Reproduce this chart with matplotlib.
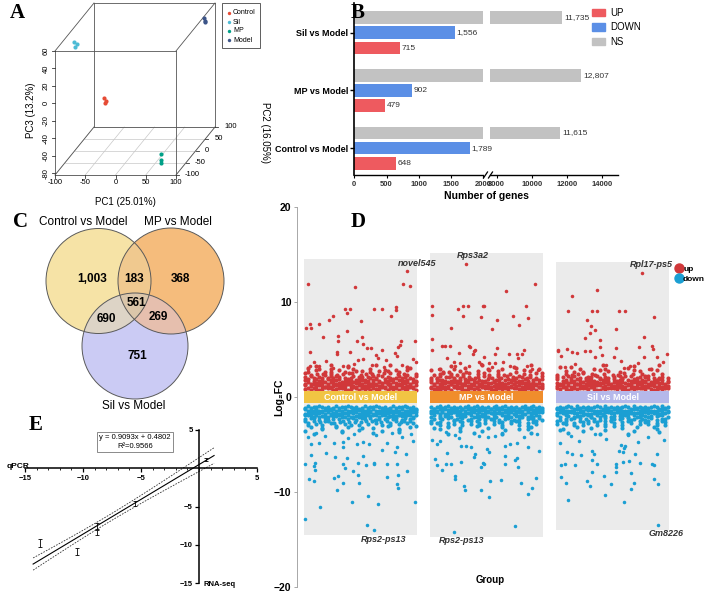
import numpy as np
import matplotlib
matplotlib.use("Agg")
import matplotlib.pyplot as plt
from matplotlib.patches import Circle, Rectangle, Polygon, Patch
from matplotlib.lines import Line2D

plt.rcParams["font.family"] = ["Liberation Sans", "DejaVu Sans"]

# ---------------- data ----------------
# A: PCA scores (PC1, PC2, PC3) per group
pca_groups = ["Control", "Sil", "MP", "Model"]
pca_colors = ["#E64B35", "#4DBBD5", "#00A087", "#3C5488"]
pc1 = {"Control": [-52, -49, -50], "Sil": [-88, -84, -85], "MP": [62, 61, 63], "Model": [85, 88, 87]}
pc2 = {"Control": [0, 2, -1], "Sil": [-40, -38, -42], "MP": [-60, -58, -61], "Model": [90, 88, 91]}
pc3 = {"Control": [-21, -25, -27], "Sil": [54, 51, 49], "MP": [-69, -76, -79], "Model": [46, 43, 41]}
pc1_ticks = [-100, -50, 0, 50, 100]
pc2_ticks = [-100, -50, 0, 50, 100]
pc3_ticks = [-80, -60, -40, -20, 0, 20, 40, 60]

# B: DEG counts
comparisons = ["Control vs Model", "MP vs Model", "Sil vs Model"]
deg_up = [648, 479, 715]
deg_down = [1789, 902, 1556]
deg_ns = [11615, 12807, 11735]

# C: Venn counts (C only, C&M, M only, all, C&S, M&S, S only)
venn_sets = ["Control vs Model", "MP vs Model", "Sil vs Model"]
venn_counts = [1003, 183, 368, 561, 690, 269, 751]

# D: log2FC per group, sparse points (x jitter, log2FC)
ctrl_up = [(0.37, 13.3), (-0.42, 11.9), (-0.04, 11.6), (0.34, 11.9), (0.39, 11.7), (-0.12, 9.3), (-0.08, 9.3),
           (0.11, 9.3), (0.17, 9.3), (-0.11, 8.8), (0.28, 9.5), (0.28, 9.2), (-0.22, 8.5), (-0.25, 8.1), (0.00, 8.0),
           (0.24, 8.5), (-0.40, 7.7), (-0.43, 7.3), (-0.39, 7.3), (-0.33, 7.7), (-0.30, 6.3), (-0.18, 6.4),
           (-0.18, 5.9), (-0.11, 6.9), (0.01, 6.3), (-0.03, 5.9), (0.32, 5.9), (0.31, 5.5), (0.30, 5.3), (0.43, 5.9),
           (0.02, 5.6), (0.05, 5.2), (0.08, 5.2), (0.17, 4.9), (-0.40, 4.7), (-0.19, 4.7), (-0.19, 4.5), (-0.08, 4.7),
           (0.12, 4.4), (0.14, 4.1), (0.20, 3.9), (0.27, 4.6), (0.29, 4.3), (-0.02, 3.9), (0.02, 4.0), (-0.27, 3.8),
           (-0.37, 3.7), (-0.40, 3.3), (-0.42, 3.0), (0.42, 4.0), (0.44, 3.7), (-0.14, 3.3), (-0.22, 3.1),
           (-0.05, 3.5), (0.09, 3.4), (0.19, 3.2), (0.33, 3.4), (0.38, 3.1), (-0.33, 3.3)]
mp_up = [(-0.16, 14.0), (0.385, 11.9), (0.155, 11.2), (-0.43, 9.6), (-0.43, 8.6), (-0.23, 9.3), (-0.19, 9.6),
         (-0.15, 9.6), (-0.03, 9.6), (-0.02, 9.6), (-0.19, 8.5), (-0.04, 8.4), (0.08, 8.1), (0.31, 9.6), (0.21, 8.5),
         (0.33, 8.3), (-0.28, 7.3), (0.04, 7.2), (0.26, 7.6), (-0.43, 6.1), (-0.43, 4.9), (-0.35, 5.4), (-0.33, 5.4),
         (-0.29, 5.4), (-0.14, 5.4), (-0.13, 5.3), (-0.10, 4.8), (-0.09, 4.9), (-0.11, 4.5), (0.08, 5.2),
         (-0.02, 4.2), (-0.22, 4.6), (-0.31, 4.1), (0.07, 4.5), (0.18, 4.5), (0.24, 4.5), (0.25, 4.1), (0.28, 4.5),
         (0.30, 4.9), (-0.26, 3.7), (-0.21, 3.6), (-0.06, 3.7), (-0.04, 3.5), (0.02, 3.6), (0.07, 3.6), (0.13, 3.7),
         (-0.38, 2.9), (-0.25, 3.3), (-0.14, 3.3), (0.04, 3.2), (0.19, 3.3), (0.32, 3.3), (0.36, 3.0), (0.41, 2.8)]
sil_up = [(0.23, 13.05), (-0.12, 11.3), (-0.32, 10.6), (-0.35, 9.1), (-0.16, 9.1), (-0.12, 9.1), (0.05, 9.1),
          (0.10, 9.1), (0.33, 8.4), (-0.20, 8.1), (-0.17, 7.5), (-0.14, 7.1), (-0.18, 6.7), (0.03, 7.2), (-0.22, 6.2),
          (-0.10, 6.0), (0.25, 6.3), (-0.43, 5.0), (-0.43, 4.8), (-0.36, 5.1), (-0.10, 5.3), (0.03, 5.2), (0.21, 5.3),
          (0.31, 5.4), (0.32, 5.1), (-0.28, 4.6), (-0.22, 4.8), (-0.18, 4.8), (-0.14, 4.2), (-0.41, 4.3),
          (-0.32, 4.7), (-0.08, 4.4), (0.01, 4.2), (0.07, 3.8), (0.43, 4.5), (0.35, 4.2), (0.25, 4.2), (0.40, 3.7),
          (0.20, 3.6), (0.14, 3.3), (-0.30, 3.5), (-0.05, 3.4), (0.09, 3.1), (-0.38, 3.2), (0.29, 3.0)]
ctrl_down = [(-0.44, -12.8), (-0.32, -11.6), (0.05, -13.5), (0.11, -14.0), (-0.07, -11.1), (0.14, -11.3),
             (0.43, -11.0), (0.06, -10.4), (-0.19, -9.8), (0.30, -9.6), (0.29, -9.2), (-0.14, -9.1), (-0.01, -9.0),
             (-0.41, -8.6), (-0.37, -8.8), (-0.21, -8.5), (-0.18, -8.3), (0.21, -8.4), (0.30, -8.2), (-0.36, -7.7),
             (-0.37, -7.3), (-0.36, -6.9), (-0.44, -7.0), (-0.14, -7.0), (-0.12, -7.5), (-0.06, -7.8), (-0.02, -8.2),
             (0.04, -7.2), (0.11, -7.1), (0.11, -6.9), (-0.02, -6.9), (0.21, -7.0), (0.29, -7.1), (0.37, -7.8),
             (-0.39, -6.1), (-0.20, -6.3), (-0.11, -6.4), (0.02, -6.2), (0.36, -6.0), (-0.27, -5.9), (-0.14, -5.3),
             (-0.03, -4.9), (0.17, -5.6), (0.29, -5.3), (0.27, -5.8), (-0.39, -4.9), (-0.33, -4.8), (-0.21, -4.8),
             (-0.14, -4.7), (0.02, -4.7), (0.07, -4.9), (0.21, -4.8), (0.42, -4.6), (-0.42, -4.2), (-0.28, -4.1),
             (-0.10, -4.3), (0.12, -4.0), (0.33, -4.2), (-0.35, -3.8), (-0.05, -3.9), (0.25, -3.8), (0.40, -3.9)]
mp_down = [(-0.26, -14.2), (0.23, -13.6), (-0.18, -9.4), (-0.17, -9.8), (-0.04, -9.8), (0.02, -10.5), (0.03, -8.8),
           (0.115, -8.7), (0.27, -9.1), (0.33, -10.2), (0.36, -9.6), (0.39, -8.5), (-0.25, -8.6), (-0.25, -8.3),
           (-0.39, -7.2), (-0.35, -7.7), (-0.32, -7.0), (-0.28, -7.1), (-0.20, -6.8), (-0.41, -6.5), (-0.31, -5.9),
           (-0.03, -6.9), (-0.02, -7.1), (-0.04, -7.4), (0.15, -7.0), (0.15, -6.2), (0.23, -6.6), (0.24, -6.4),
           (0.25, -7.4), (0.42, -5.7), (0.33, -5.3), (-0.20, -5.2), (-0.16, -5.2), (-0.12, -5.3), (-0.09, -6.0),
           (0.0, -5.5), (0.02, -5.8), (-0.10, -6.3), (0.15, -5.2), (0.24, -4.8), (0.19, -4.9), (-0.39, -4.9),
           (-0.37, -4.6), (-0.43, -4.5), (-0.25, -4.0), (-0.22, -4.3), (-0.06, -4.1), (0.01, -4.2), (0.07, -4.1),
           (0.30, -4.2), (0.40, -3.9), (-0.32, -3.7), (0.12, -3.8)]
sil_down = [(0.36, -13.5), (-0.35, -10.8), (0.09, -11.0), (-0.06, -10.3), (0.15, -9.7), (-0.18, -9.4), (-0.01, -9.2),
            (0.36, -9.2), (-0.37, -9.0), (-0.20, -8.8), (0.33, -8.6), (0.17, -9.0), (-0.41, -8.4), (-0.16, -7.9),
            (-0.07, -8.3), (0.03, -7.9), (0.15, -8.0), (-0.41, -7.2), (-0.38, -7.0), (-0.30, -7.2), (-0.12, -7.0),
            (0.03, -7.4), (0.03, -7.0), (0.31, -7.0), (0.33, -7.2), (0.08, -6.8), (0.13, -6.7), (0.22, -6.9),
            (-0.16, -6.6), (-0.36, -5.8), (-0.32, -6.0), (-0.25, -6.1), (-0.16, -5.7), (-0.15, -6.0), (0.05, -5.7),
            (0.08, -5.8), (0.09, -5.4), (0.18, -6.0), (0.35, -6.0), (0.07, -5.1), (0.10, -5.2), (-0.42, -4.8),
            (-0.27, -4.6), (-0.05, -4.4), (0.20, -4.7), (0.41, -4.5), (-0.33, -4.1), (0.12, -4.0), (0.28, -4.2),
            (-0.14, -3.9)]

# D: dense band near the threshold, read row by row (digit = point, value = small offset)
ctrl_up_band = ["3816402957136840295173608429517360842951",
                "7.29583160473829351604726836195047302816",
                "1604383729515708473629508173612940558178",
                "58.2713.96048.271.59360.482.7159.3604.72",
                "4.83.61.29275.3.08.46.5193.7.52.1806.3.9",
                "9.3.5.62.7.1.4.98..1.7.6.3.8.9..5.42..7",
                ".3..8..1.4..9.2...6.7..2..5..7...4..8...",
                ".6...5...2.....9.3.....4....1...1....8..",
                "....4....7.....3.........7....6.....2..."]
mp_up_band = ["5203847196520384719652038471965203847196",
              "1804703926158347039261538470392615847703",
              "9260857183426605718834926305718434926051",
              "4.8351.0726.9483.5107.269.4835.1072.6948",
              "2.17.5493.28.6.04.7.53.91.8.62.4.05.3.7",
              ".3.58..6.2.4.9..4.8.1..7.3.5..0.6.3.9.8",
              "8...2.4...7.1...5...9..7.....2..8.6....",
              "...2....5...6.......3....4....8.......4.",
              ".......5..........9..........1.....6...."]
sil_up_band = ["7294016385729401638572940163857294016385",
               "4761813952274068139252740681395227405185",
               "3209574218063295374180563219574718063429",
               "8.14.6290.3751.8462.9037.5184.629.0375.1",
               "6.5.927.1.346.83.50.5.927.8.14.68.3.05.2",
               "2..7.3.4.9..51..6..3.2.8..5..70..7..4..",
               "...6..1..3.....8..5...1....9.5.....9....",
               ".9......4....2...2.......6.......3......",
               ".....1..........7..........4........8..."]
ctrl_down_band = ["6185203749618520374961852037496185203749",
                  "2947168305294716830529471683052947168305",
                  "8736051729448136051729418360251729483600",
                  "0327294681650372894816350372294861650373",
                  "5.21.8.39.4.70.6.18.25.3.97.40.61.82.53.",
                  "18.4.6.21.9.53.5.7.7.2.40.6.18.4.71.19.",
                  ".8..4.6..1.9..3.5..7..2..0.6..8..4..1..9",
                  "..3...7....5...2....8...6....1...9...4..",
                  "6.....2......9.....4.......7.....3......",
                  "...8.........1..........5........2......"]
mp_down_band = ["3951740826395174082639517408263951740826",
                "7062813954706281395470628139547062813954",
                "4019275603885412927603854419276038254110",
                "92.4.608.1735.29.4608.17.3529.460.81735.",
                ".7.36.1.85.2.94.07.3.61.8.52.9.40.736.18",
                "1.85..9.2.46..3.28.0..4.67..1.35..9.62..",
                "1..5..9.2..6..3..8.0..4..7..1..5..9..2..",
                ".8....4...7.....1...6....3.....9...5....",
                "...2......6.......8.......4.......1.....",
                "......9........3.........7.........5...."]
sil_down_band = ["8274059163827405916382740591638274059163",
                 "1536984027153698402715369840271536984027",
                 "6148025513977446802651329746580251397240",
                 "37.15.9640.28.3715.96.4028.37.1596.402.8",
                 ".9.4.71.3.6.05.8.2.94.71.3.6.058.2.9.47.",
                 "4.82..8.15.1.47..3.29..6.30..4.62..8.15.",
                 "4..2..8..5.1..7..3..9..6..0..4..2..8..5.",
                 "..9....3....6....1.....7....2.....5.....",
                 ".5.......8.......4.........6.......1....",
                 "....3..........7.........9..........2..."]
top_genes = ["novel545", "Rps3a2", "Rpl17-ps5"]
bottom_genes = ["Rps2-ps13", "Rps2-ps13", "Gm8226"]

# E: validation
qpcr = [-13.7, -10.5, -8.8, -8.8, -5.5, 0.6]
rnaseq = [-9.8, -10.9, -7.6, -8.4, -4.6, 1.1]
rnaseq_err = [0.5, 0.45, 0.4, 0.35, 0.3, 0.2]
fit_slope, fit_intercept, fit_r2 = 0.9093, 0.4802, 0.9566

W, H = 709, 594
fig = plt.figure(figsize=(W / 100, H / 100), dpi=100)


def px_axes(x0, y0, x1, y1):
    return fig.add_axes([x0 / W, 1 - y1 / H, (x1 - x0) / W, (y1 - y0) / H])


def panel_letter(x, y, s):
    fig.text(x / W, 1 - y / H, s, family="Liberation Serif", weight="bold", fontsize=15, ha="center", va="center")


# ---------------- A: 3D PCA (oblique box like scatterplot3d) ----------------
axA = px_axes(0, 0, 280, 215)
axA.set_xlim(0, 280)
axA.set_ylim(215, 0)
axA.axis("off")
lim1, lim2, lim3 = (-100, 100), (-100, 100), (-82, 60)


def proj(a, b, c):
    a, b, c = np.asarray(a, float), np.asarray(b, float), np.asarray(c, float)
    d = (b - lim2[0]) / (lim2[1] - lim2[0])
    sx = 55 + (a - lim1[0]) / (lim1[1] - lim1[0]) * 121 + d * 39
    sy = 175 - (c - lim3[0]) / (lim3[1] - lim3[0]) * 124 - d * 48
    return sx, sy


for v in pc1_ticks:
    xs, ys = proj([v, v], [lim2[0], lim2[1]], [lim3[0]] * 2)
    axA.plot(xs, ys, color="#c8c8c8", lw=0.5, zorder=1)
for v in pc2_ticks:
    xs, ys = proj([lim1[0], lim1[1]], [v, v], [lim3[0]] * 2)
    axA.plot(xs, ys, color="#c8c8c8", lw=0.5, zorder=1)

corners = [(a, b, c) for a in lim1 for b in lim2 for c in lim3]
for i, p in enumerate(corners):
    for q in corners[i + 1:]:
        if sum(pi != qi for pi, qi in zip(p, q)) == 1:
            xs, ys = proj([p[0], q[0]], [p[1], q[1]], [p[2], q[2]])
            axA.plot(xs, ys, color="#555555", lw=0.6, zorder=2)

for v in pc1_ticks:
    sx, sy = proj(v, lim2[0], lim3[0])
    axA.plot([sx, sx], [sy, sy + 3], color="#333", lw=0.6)
    axA.text(sx, sy + 8, str(v), fontsize=5.5, ha="center", va="center")
for v in pc3_ticks:
    sx, sy = proj(lim1[0], lim2[0], v)
    axA.plot([sx, sx - 3], [sy, sy], color="#333", lw=0.6)
    axA.text(sx - 9, sy, str(v), fontsize=5.5, ha="center", va="center", rotation=90)
for v in pc2_ticks:
    sx, sy = proj(lim1[1], v, lim3[0])
    axA.plot([sx, sx + 3], [sy, sy], color="#333", lw=0.6)
    axA.text(sx + 9, sy, str(v), fontsize=5.5, ha="left", va="center")

for g, col in zip(pca_groups, pca_colors):
    sx, sy = proj(pc1[g], pc2[g], pc3[g])
    axA.scatter(sx, sy, s=9, color=col, zorder=3, linewidths=0)

axA.text(125, 202, "PC1 (25.01%)", fontsize=7, ha="center", va="center")
axA.text(31, 110, "PC3 (13.2%)", fontsize=7, ha="center", va="center", rotation=90)
axA.text(265, 132, "PC2 (16.05%)", fontsize=7, ha="center", va="center", rotation=-90)

axA.add_patch(Rectangle((222, 3), 38, 45, fill=False, ec="#444", lw=0.6))
for k, (g, col) in enumerate(zip(pca_groups, pca_colors)):
    axA.scatter([229], [13 + 9 * k], s=6, color=col, linewidths=0)
    axA.text(233, 13 + 9 * k, g, fontsize=5, va="center", ha="left")

# ---------------- B: DEG bars with broken axis ----------------
ypos = np.arange(len(comparisons))
off, bh = 0.264, 0.22
c_up, c_down, c_ns = "#EE5A5F", "#5B8FE6", "#C2C2C2"
axL = fig.add_axes([354.3 / W, 1 - 175 / H, 129 / W, 172 / H])
axR = fig.add_axes([490 / W, 1 - 175 / H, 128 / W, 172 / H])
axR.patch.set_visible(False)
for ax in (axL, axR):
    ax.barh(ypos + off, deg_ns, height=bh, color=c_ns)
    ax.barh(ypos, deg_down, height=bh, color=c_down)
    ax.barh(ypos - off, deg_up, height=bh, color=c_up)
    ax.set_ylim(-0.466, 2.517)
    ax.spines["top"].set_visible(False)
    ax.spines["right"].set_visible(False)
    ax.spines["bottom"].set_linewidth(1.0)
    ax.tick_params(axis="x", labelsize=5.5, length=2.5, width=0.8, pad=2)
axL.set_xlim(0, 2000)
axL.set_xticks([0, 500, 1000, 1500, 2000])
axR.set_xlim(7630, 14880)
axR.set_xticks([8000, 10000, 12000, 14000])
axR.spines["left"].set_visible(False)
axR.set_yticks([])
axL.spines["left"].set_linewidth(1.2)
axL.set_yticks(ypos)
axL.set_yticklabels(comparisons, fontsize=6.5, fontweight="bold")
axL.tick_params(axis="y", length=3, width=1.0, pad=1.5)
for ax in (axL, axR):
    for lab in ax.get_xticklabels():
        lab.set_fontweight("bold")
        lab.set_color("#333333")
for y, u, d in zip(ypos, deg_up, deg_down):
    axL.text(u + 22, y - off, f"{u:,}", fontsize=6, va="center", color="#333", clip_on=False)
    axL.text(d + 22, y, f"{d:,}", fontsize=6, va="center", color="#333", clip_on=False)
for y, n in zip(ypos, deg_ns):
    axR.text(n + 110, y + off, f"{n:,}", fontsize=6, va="center", color="#333")
for bx in (485.5, 490.5):
    fig.add_artist(Line2D([(bx - 2) / W, (bx + 2) / W], [1 - 178 / H, 1 - 172 / H], color="black", lw=0.9))
fig.text(486 / W, 1 - 196 / H, "Number of genes", fontsize=7.5, fontweight="bold", ha="center", va="center")
fig.legend(handles=[Patch(color=c_up), Patch(color=c_down), Patch(color=c_ns)], labels=["UP", "DOWN", "NS"],
           loc="upper left", bbox_to_anchor=(592 / W, 1 - 8 / H), frameon=False, fontsize=7,
           handlelength=1.3, handleheight=0.8, labelspacing=0.45, handletextpad=0.6, borderpad=0, borderaxespad=0)

# ---------------- C: Venn ----------------
axC = px_axes(0, 225, 300, 412)
axC.set_xlim(0, 300)
axC.set_ylim(412, 225)
axC.axis("off")
venn_circ = [((98.5, 281), 52.5), ((171, 281), 53), ((135, 346), 53)]
solo_cols = ["#F6E3A6", "#F5BC7C", "#CBCBF4"]
pair_cols = {(0, 1): "#F0C98F", (0, 2): "#DDD4C6", (1, 2): "#E6BFAE"}
triple_col = "#DBC6AA"
for (cc, rr), col in zip(venn_circ, solo_cols):
    axC.add_patch(Circle(cc, rr, fc=col, ec="none"))
for (i, j), col in pair_cols.items():
    p = Circle(venn_circ[j][0], venn_circ[j][1], fc=col, ec="none")
    axC.add_patch(p)
    p.set_clip_path(Circle(venn_circ[i][0], venn_circ[i][1], transform=axC.transData))
pts = []
t = np.linspace(0, 2 * np.pi, 1440, endpoint=False)
for k, (cc, rr) in enumerate(venn_circ):
    bx, by = cc[0] + rr * np.cos(t), cc[1] + rr * np.sin(t)
    keep = np.ones_like(bx, bool)
    for m, (oc, orad) in enumerate(venn_circ):
        if m != k:
            keep &= np.hypot(bx - oc[0], by - oc[1]) <= orad + 1e-6
    pts.append(np.column_stack([bx[keep], by[keep]]))
pts = np.vstack(pts)
cen = pts.mean(axis=0)
pts = pts[np.argsort(np.arctan2(pts[:, 1] - cen[1], pts[:, 0] - cen[0]))]
axC.add_patch(Polygon(pts, closed=True, fc=triple_col, ec="none"))
for cc, rr in venn_circ:
    axC.add_patch(Circle(cc, rr, fc="none", ec="#5a5a5a", lw=0.7))
venn_pos = [(92, 279), (134, 279), (180, 279), (136, 303), (106, 319), (158, 317), (137, 356)]
for (x, y), v in zip(venn_pos, venn_counts):
    axC.text(x, y, f"{v:,}", fontsize=8.5, fontweight="bold", ha="center", va="center")
for (x, y), s in zip([(83, 222), (178, 222), (134, 406)], venn_sets):
    fig.text(x / W, 1 - y / H, s, fontsize=8.5, ha="center", va="center")

# ---------------- D: multi-group volcano ----------------
def band_points(rows, y0, step):
    xs, ys = [], []
    for i, row in enumerate(rows):
        n = len(row)
        for j, ch in enumerate(row):
            if ch.isdigit():
                xs.append(-0.44 + 0.88 * j / (n - 1))
                ys.append(y0 + step * i + np.sign(step) * int(ch) * 0.03)
    return xs, ys


axD = px_axes(297, 207, 672, 587)
axD.set_xlim(-0.504, 2.472)
axD.set_ylim(-20, 20)
for s in ("top", "right", "bottom"):
    axD.spines[s].set_visible(False)
axD.spines["left"].set_color("#9a9a9a")
axD.spines["left"].set_linewidth(0.6)
axD.set_xticks([])
axD.set_yticks([-20, -10, 0, 10, 20])
axD.tick_params(axis="y", length=2.5, width=0.6, color="#9a9a9a", labelsize=7.5, pad=1.5)
for lab in axD.get_yticklabels():
    lab.set_fontweight("bold")

red, blue = "#D1383A", "#1B9FD3"
box_cols = ["#F1C443", "#F08D2C", "#B5B8EA"]
ups = [(ctrl_up, ctrl_up_band), (mp_up, mp_up_band), (sil_up, sil_up_band)]
downs = [(ctrl_down, ctrl_down_band), (mp_down, mp_down_band), (sil_down, sil_down_band)]
up_off = [(7, 5), (5, 6), (7, 6)]
dn_off = [(7, -7), (6, -6), (6, -6)]
for i in range(3):
    ux, uy = band_points(ups[i][1], 0.75, 0.3)
    dx, dy = band_points(downs[i][1], -0.95, -0.3)
    sux = [p[0] for p in ups[i][0]]
    suy = [p[1] for p in ups[i][0]]
    sdx = [p[0] for p in downs[i][0]]
    sdy = [p[1] for p in downs[i][0]]
    all_up_y = np.array(uy + suy)
    all_dn_y = np.array(dy + sdy)
    top, bot = all_up_y.max() + 1.2, all_dn_y.min() - 0.5
    axD.bar(i, top - bot, bottom=bot, width=0.9, color="#EBEBEB", zorder=0)
    axD.scatter(np.array(ux) + i, uy, s=9, color=red, linewidths=0, zorder=2)
    axD.scatter(np.array(sux) + i, suy, s=6.5, color=red, linewidths=0, zorder=2)
    axD.scatter(np.array(dx) + i, dy, s=9, color=blue, linewidths=0, zorder=2)
    axD.scatter(np.array(sdx) + i, sdy, s=6.5, color=blue, linewidths=0, zorder=2)
    axD.bar(i, 1.3, bottom=-0.65, width=0.9, color=box_cols[i], zorder=3)
    axD.text(i, 0, comparisons[i], color="white", fontsize=6.5, fontweight="bold", ha="center", va="center", zorder=4)
    k = int(np.argmax(suy))
    axD.annotate(top_genes[i], (sux[k] + i, suy[k]), xytext=up_off[i], textcoords="offset points",
                 fontsize=6.5, fontweight="bold", style="italic", color="#333", ha="center", va="center")
    k = int(np.argmin(sdy))
    axD.annotate(bottom_genes[i], (sdx[k] + i, sdy[k]), xytext=dn_off[i], textcoords="offset points",
                 fontsize=6.5, fontweight="bold", style="italic", color="#333", ha="center", va="center")
fig.text(279 / W, 1 - 397 / H, "Log₂FC", rotation=90, fontsize=7.5, fontweight="bold", ha="center", va="center")
fig.text(490 / W, 1 - 580 / H, "Group", fontsize=7, fontweight="bold", ha="center", va="center")
fig.legend(handles=[Line2D([], [], ls="none", marker="o", ms=6.5, color=red),
                    Line2D([], [], ls="none", marker="o", ms=6.5, color=blue)], labels=["up", "down"],
           loc="upper left", bbox_to_anchor=(676 / W, 1 - 265 / H), frameon=False,
           prop={"size": 6, "weight": "bold"}, handlelength=0.8, handletextpad=0.05, labelspacing=0.3,
           borderpad=0, borderaxespad=0)

# ---------------- E: qPCR vs RNA-seq ----------------
axE = px_axes(25, 430, 257, 583)
axE.set_xlim(-15, 5)
axE.set_ylim(-15, 5)
axE.spines["left"].set_position(("data", 0))
axE.spines["bottom"].set_position(("data", 0))
axE.spines["top"].set_visible(False)
axE.spines["right"].set_visible(False)
for s in ("left", "bottom"):
    axE.spines[s].set_linewidth(1.1)
axE.set_xticks([-15, -10, -5, 5])
axE.set_xticks(np.arange(-15, 6, 1), minor=True)
axE.set_yticks([-15, -10, -5, 5])
axE.tick_params(which="major", length=3, width=0.9, labelsize=5.5, pad=1.5)
axE.tick_params(which="minor", length=1.5, width=0.6)
for lab in axE.get_xticklabels() + axE.get_yticklabels():
    lab.set_fontweight("bold")
qx, qy = np.array(qpcr), np.array(rnaseq)
xl = np.linspace(qx.min() - 0.6, qx.max() + 0.7, 100)
yl = fit_slope * xl + fit_intercept
res = qy - (fit_slope * qx + fit_intercept)
sres = np.sqrt(np.sum(res ** 2) / (len(qx) - 2))
se = sres * np.sqrt(1 / len(qx) + (xl - qx.mean()) ** 2 / np.sum((qx - qx.mean()) ** 2))
axE.plot(xl, yl, color="black", lw=0.8)
axE.plot(xl, yl + 0.741 * se, color="#333", lw=0.6, ls=(0, (2, 1.5)))
axE.plot(xl, yl - 0.741 * se, color="#333", lw=0.6, ls=(0, (2, 1.5)))
axE.errorbar(qx, qy, yerr=rnaseq_err, fmt="none", ecolor="black", elinewidth=0.6, capsize=1.2, capthick=0.6)
axE.text(-5.5, 3.4, f"y = {fit_slope}x + {fit_intercept}\nR²={fit_r2}", fontsize=5.5, ha="center", va="center",
         linespacing=1.3, bbox=dict(boxstyle="square,pad=0.3", fc="white", ec="#777", lw=0.6))
fig.text(18 / W, 1 - 466 / H, "qPCR", fontsize=6, fontweight="bold", ha="center", va="center")
fig.text(203 / W, 1 - 584 / H, "RNA-seq", fontsize=5.5, fontweight="bold", ha="left", va="center")

panel_letter(17, 13, "A")
panel_letter(358, 13, "B")
panel_letter(20, 222, "C")
panel_letter(358, 222, "D")
panel_letter(36, 425, "E")

fig.savefig("out.png", dpi=100)
